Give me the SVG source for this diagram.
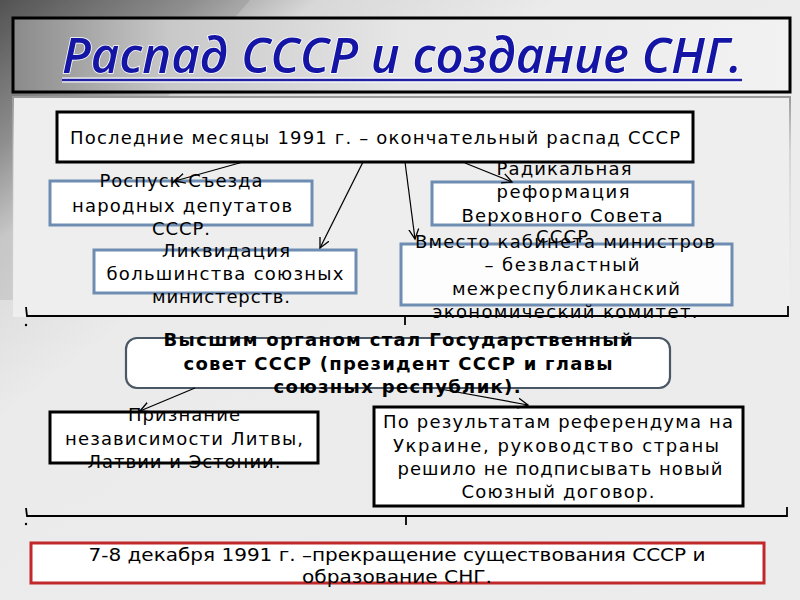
<svg xmlns="http://www.w3.org/2000/svg" width="800" height="600" viewBox="0 0 800 600">
<defs>
<linearGradient id="bg" x1="0" y1="0" x2="1" y2="1" gradientUnits="objectBoundingBox">
<stop offset="0" stop-color="#5a5a5a"/>
<stop offset="0.12" stop-color="#9a9a9a"/>
<stop offset="0.2" stop-color="#d8d8d8"/>
<stop offset="0.35" stop-color="#ebebeb"/>
<stop offset="1" stop-color="#ececec"/>
</linearGradient>
<linearGradient id="titlebg" x1="0" y1="0" x2="1" y2="0">
<stop offset="0" stop-color="#8a8a8a"/>
<stop offset="0.2" stop-color="#c8c8c8"/>
<stop offset="0.5" stop-color="#e6e6e6"/>
<stop offset="1" stop-color="#f2f2f2"/>
</linearGradient>
<linearGradient id="panel" x1="0" y1="0" x2="0" y2="1">
<stop offset="0" stop-color="#999"/>
<stop offset="0.25" stop-color="#bbb" stop-opacity="0.5"/>
<stop offset="1" stop-color="#eee" stop-opacity="0"/>
</linearGradient>
<marker id="arr" markerWidth="12" markerHeight="12" refX="10" refY="5" orient="auto" markerUnits="userSpaceOnUse" viewBox="0 0 12 10">
<path d="M0,0 L10,5 L0,10" fill="none" stroke="#000" stroke-width="1.3"/>
</marker>
<style>
.t{font-family:"DejaVu Sans","Noto Sans",sans-serif;font-size:18px;fill:#000;text-anchor:middle;}
.b{font-weight:bold;}
.box{fill:#fff;stroke:#000;stroke-width:3;}
.bbox{fill:#fff;stroke:#6f8db3;stroke-width:3;}
.con{fill:none;stroke:#000;stroke-width:1.2;}
.br{fill:none;stroke:#000;stroke-width:1.8;}
</style>
</defs>
<rect x="0" y="0" width="800" height="600" fill="url(#bg)"/>
<path d="M250,0 C200,60 120,140 30,300 L0,300 L0,0 Z" fill="#000" opacity="0.08"/>
<g id="panel-bg">
<rect x="13" y="97" width="777" height="220" fill="#eeeeee" stroke="url(#panel)" stroke-width="2"/>
</g>
<g id="title">
<rect x="13" y="18" width="777" height="74" fill="url(#titlebg)" stroke="#000" stroke-width="3"/>
<line x1="62" y1="80" x2="742" y2="80" stroke="#fff" stroke-width="5"/>
<line x1="62" y1="80" x2="742" y2="80" stroke="#2020a0" stroke-width="2.5"/>
<text x="402" y="73" font-family="'Open Sans','DejaVu Sans',sans-serif" font-style="italic" font-weight="600" font-size="48" fill="#1515a5" stroke="#fff" stroke-width="1.5" paint-order="stroke" text-anchor="middle" textLength="680" lengthAdjust="spacingAndGlyphs">Распад СССР и создание СНГ.</text>
</g>
<g id="n1">
<rect class="box" x="57" y="112" width="636" height="50"/>
<text class="t" x="375" y="144" font-size="19" textLength="610">Последние месяцы 1991 г. – окончательный распад СССР</text>
</g>
<g id="n2">
<rect class="bbox" x="50" y="181" width="262" height="44"/>
<text class="t"><tspan x="181" y="187" textLength="163">Роспуск Съезда</tspan><tspan x="182" y="212" textLength="220">народных депутатов</tspan><tspan x="181" y="235" textLength="58">СССР.</tspan></text>
</g>
<g id="n3">
<rect class="bbox" x="94" y="250" width="262" height="43"/>
<text class="t"><tspan x="226" y="257" textLength="128">Ликвидация</tspan><tspan x="225" y="280" textLength="237">большинства союзных</tspan><tspan x="221" y="303" textLength="138">министерств.</tspan></text>
</g>
<g id="n4">
<rect class="bbox" x="432" y="182" width="261" height="43"/>
<text class="t"><tspan x="564" y="175" textLength="135">Радикальная</tspan><tspan x="563" y="198" textLength="133">реформация</tspan><tspan x="562" y="222" textLength="201">Верховного Совета</tspan><tspan x="562" y="243" textLength="52">СССР</tspan></text>
</g>
<g id="n5">
<rect class="bbox" x="401" y="244" width="331" height="61" fill-opacity="0.85"/>
<text class="t"><tspan x="565" y="248" textLength="300">Вместо кабинета министров</tspan><tspan x="562" y="271" textLength="155">– безвластный</tspan><tspan x="566" y="295" textLength="228">межреспубликанский</tspan><tspan x="565" y="318" textLength="265">экономический комитет.</tspan></text>
</g>
<g id="brace1">
<path class="br" d="M26,307 L27,316 L788,316 L788,306"/>
<path class="br" d="M405,316 L405,325"/>
<circle cx="26" cy="325" r="1.2" fill="#000"/>
</g>
<g id="n6">
<rect x="126" y="338" width="544" height="50" rx="11" ry="11" fill="#fff" stroke="#4a5866" stroke-width="2.2"/>
<text class="t b"><tspan x="398" y="346" textLength="469">Высшим органом стал Государственный</tspan><tspan x="398" y="370" textLength="429">совет СССР (президент СССР и главы</tspan><tspan x="397" y="393" textLength="247">союзных республик).</tspan></text>
</g>
<g id="n7">
<rect class="box" x="50" y="412" width="268" height="51"/>
<text class="t"><tspan x="184" y="421" textLength="112">Признание</tspan><tspan x="184" y="445" textLength="238">независимости Литвы,</tspan><tspan x="184" y="468" textLength="193">Латвии и Эстонии.</tspan></text>
</g>
<g id="n8">
<rect class="box" x="374" y="407" width="369" height="99"/>
<text class="t"><tspan x="558" y="428" textLength="350">По результатам референдума на</tspan><tspan x="556" y="452" textLength="326">Украине, руководство страны</tspan><tspan x="560" y="475" textLength="325">решило не подписывать новый</tspan><tspan x="558" y="498" textLength="193">Союзный договор.</tspan></text>
</g>
<g id="brace2">
<path class="br" d="M26,508 L27,516 L787,516 L787,507"/>
<path class="br" d="M406,516 L406,525"/>
<circle cx="26" cy="524" r="1.2" fill="#000"/>
</g>
<g id="n9">
<rect x="31" y="543" width="733" height="40" fill="#fff" stroke="#c0282a" stroke-width="3"/>
<text class="t" font-family="'DejaVu Sans Condensed','DejaVu Sans',sans-serif" font-stretch="condensed" font-size="20"><tspan x="397" y="561" textLength="617" lengthAdjust="spacingAndGlyphs">7-8 декабря 1991 г. –прекращение существования СССР и</tspan><tspan x="397" y="583" textLength="190" lengthAdjust="spacingAndGlyphs">образование СНГ.</tspan></text>
</g>
<g id="connectors">
<line class="con" x1="243" y1="162" x2="175" y2="181" marker-end="url(#arr)"/>
<line class="con" x1="363" y1="162" x2="320" y2="248" marker-end="url(#arr)"/>
<line class="con" x1="405" y1="162" x2="415" y2="239" marker-end="url(#arr)"/>
<line class="con" x1="465" y1="163" x2="512" y2="182" marker-end="url(#arr)"/>
<line class="con" x1="195" y1="388" x2="140" y2="411" marker-end="url(#arr)"/>
<line class="con" x1="440" y1="389" x2="528" y2="405" marker-end="url(#arr)"/>
</g>
</svg>
